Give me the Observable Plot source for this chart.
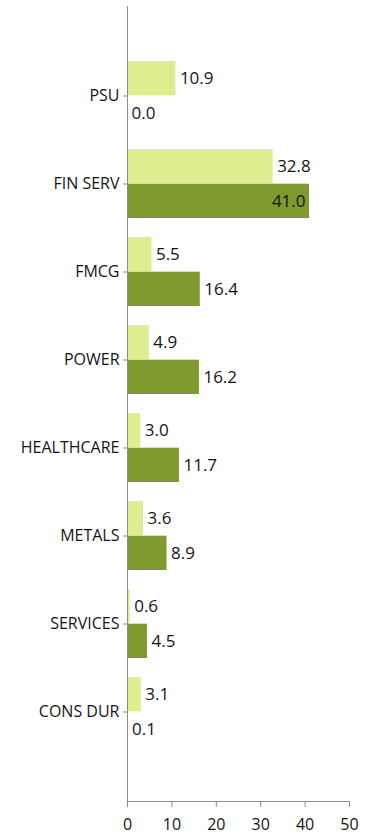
<!DOCTYPE html>
<html>
<head>
<meta charset="utf-8">
<script src="https://cdn.jsdelivr.net/npm/d3@7"></script>
<script src="https://cdn.jsdelivr.net/npm/@observablehq/plot@0.6"></script>
<style>
  html, body { margin: 0; padding: 0; background: #fff; }
  #chart svg { display: block; }
</style>
</head>
<body>
<div id="chart"></div>
<script>
const categories = ["PSU", "FIN SERV", "FMCG", "POWER", "HEALTHCARE", "METALS", "SERVICES", "CONS DUR"];
const lightValues = [10.9, 32.8, 5.5, 4.9, 3.0, 3.6, 0.6, 3.1];
const darkValues = [0.0, 41.0, 16.4, 16.2, 11.7, 8.9, 4.5, 0.1];
const xTicks = [0, 10, 20, 30, 40, 50];

const light = categories.map((c, i) => ({cat: c, value: lightValues[i]}));
const dark = categories.map((c, i) => ({cat: c, value: darkValues[i]}));

const lightColor = "#dcee8e";
const darkColor = "#7f9a2f";
const axisColor = "#8c8c8c";
const textColor = "#141414";
const half = 34.7;

const chart = Plot.plot({
  width: 370,
  height: 835,
  marginLeft: 127,
  marginRight: 21,
  marginTop: 6,
  marginBottom: 34,
  style: {fontFamily: "'Open Sans', sans-serif", fontSize: "16px", color: textColor, background: "#fff"},
  x: {domain: [0, 50], ticks: xTicks, label: null},
  y: {domain: categories, range: [51, 757], paddingInner: 0.213, paddingOuter: 0.1065, label: null},
  marks: [
    Plot.barX(light, {y: "cat", x: "value", fill: lightColor, insetBottom: half, insetTop: 0}),
    Plot.barX(dark, {y: "cat", x: "value", fill: darkColor, insetTop: half, insetBottom: 0}),
    Plot.text(light, {y: "cat", x: "value", text: d => d.value.toFixed(1), dy: -half / 2, dx: 4, textAnchor: "start", fontSize: 17, fill: textColor}),
    Plot.text(dark, {filter: d => d.value < 40, y: "cat", x: "value", text: d => d.value.toFixed(1), dy: half / 2, dx: 4, textAnchor: "start", fontSize: 17, fill: textColor}),
    Plot.text(dark, {filter: d => d.value >= 40, y: "cat", x: "value", text: d => d.value.toFixed(1), dy: half / 2, dx: -4, textAnchor: "end", fontSize: 17, fill: textColor}),
    Plot.ruleX([0], {stroke: axisColor}),
    Plot.frame({anchor: "bottom", stroke: axisColor}),
    Plot.axisX({ticks: xTicks, tickSize: 6, tickPadding: 11, stroke: axisColor, fill: textColor, fontSize: 16, label: null}),
    Plot.axisY({tickSize: 4, tickPadding: 4, stroke: axisColor, fill: textColor, fontSize: 16, label: null})
  ]
});
document.getElementById("chart").appendChild(chart);
</script>
</body>
</html>
